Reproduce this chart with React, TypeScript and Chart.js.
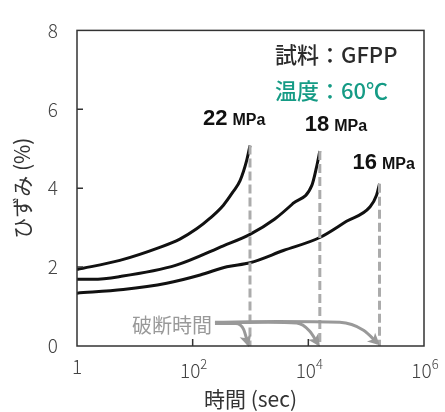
import { useEffect, useRef } from 'react';
import { Chart, registerables } from 'chart.js';

Chart.register(...registerables);

// ---- data ----
const stressLabels = ['22', '18', '16'];
const time22 = [1, 5.5, 27, 60, 117, 200, 340, 500, 660, 855, 980];
const strain22 = [1.94, 2.17, 2.5, 2.71, 2.97, 3.24, 3.57, 3.91, 4.19, 4.69, 5.08];
const time18 = [1, 1.9, 5.5, 52, 340, 980, 2630, 5500, 11500, 13800, 15800];
const strain18 = [1.69, 1.69, 1.76, 2.05, 2.54, 2.83, 3.22, 3.62, 4.07, 4.52, 4.94];
const time16 = [1, 6.3, 35.5, 135, 390, 980, 3700, 15800, 45700, 117000, 151000, 170000];
const strain16 = [1.34, 1.43, 1.59, 1.8, 2.01, 2.11, 2.42, 2.75, 3.16, 3.53, 3.82, 4.11];
const ruptureTimes = [980, 15800, 170000];
const ruptureStrains = [5.08, 4.94, 4.11];
const arrow1Time = [243, 560, 760, 905];
const arrow1Y = [0.57, 0.57, 0.42, 0.05];
const arrow2Time = [243, 2000, 6300, 10500, 14800];
const arrow2Y = [0.58, 0.6, 0.58, 0.38, 0.05];
const arrow3Time = [243, 3000, 35000, 90000, 158000];
const arrow3Y = [0.6, 0.62, 0.6, 0.4, 0.07];
const xTickValues = [1, 1e2, 1e4, 1e6];
const xTickExponents = [0, 2, 4, 6];
const yTickValues = [0, 2, 4, 6, 8];
const materialText = '試料：GFPP';
const tempText = '温度：60℃';
const ruptureText = '破断時間';
const xTitle = '時間 (sec)';
const yTitle = 'ひずみ (%)';

const FONT = "'Noto Sans CJK JP', 'Noto Sans', sans-serif";
const BOLD = "'Liberation Sans', Arial, sans-serif";

const pts = (xs: number[], ys: number[]) => xs.map((x, i) => ({ x, y: ys[i] }));

const labelOffsets = [
  [-47, -21],
  [-15, -20],
  [-27, -15],
];

const overlayPlugin = {
  id: 'overlay',
  afterDatasetsDraw(chart: any) {
    const { ctx } = chart;
    ctx.save();
    // arrowheads
    chart.data.datasets.forEach((ds: any, i: number) => {
      if (!ds.isArrow) return;
      const meta = chart.getDatasetMeta(i);
      const p = meta.data[meta.data.length - 1];
      let dx = p.x - (p.cp1x ?? meta.data[meta.data.length - 2].x);
      let dy = p.y - (p.cp1y ?? meta.data[meta.data.length - 2].y);
      const len = Math.hypot(dx, dy) || 1;
      dx /= len;
      dy /= len;
      const tipX = p.x + dx * 3;
      const tipY = p.y + dy * 3;
      const L = 12;
      const W = 6;
      const bx = tipX - dx * L;
      const by = tipY - dy * L;
      ctx.fillStyle = ds.borderColor;
      ctx.beginPath();
      ctx.moveTo(tipX, tipY);
      ctx.lineTo(bx - dy * W, by + dx * W);
      ctx.lineTo(bx + dx * 3, by + dy * 3);
      ctx.lineTo(bx + dy * W, by - dx * W);
      ctx.closePath();
      ctx.fill();
    });
    ctx.restore();
  },
  afterDraw(chart: any) {
    const { ctx, chartArea, scales } = chart;
    const xs = scales.x;
    const ys = scales.y;
    ctx.save();
    // frame
    ctx.strokeStyle = '#333';
    ctx.lineWidth = 1.5;
    ctx.strokeRect(chartArea.left, chartArea.top, chartArea.right - chartArea.left, chartArea.bottom - chartArea.top);
    // inward ticks
    ctx.beginPath();
    yTickValues.forEach((v) => {
      if (v === 0 || v === 8) return;
      const y = ys.getPixelForValue(v);
      ctx.moveTo(chartArea.left, y);
      ctx.lineTo(chartArea.left + 6, y);
    });
    xTickValues.forEach((v, i) => {
      if (i === 0 || i === xTickValues.length - 1) return;
      const x = xs.getPixelForValue(v);
      ctx.moveTo(x, chartArea.bottom);
      ctx.lineTo(x, chartArea.bottom - 7);
    });
    ctx.stroke();
    // x tick labels with superscripts
    ctx.fillStyle = '#444';
    ctx.textBaseline = 'alphabetic';
    xTickValues.forEach((v, i) => {
      const x = xs.getPixelForValue(v);
      const e = xTickExponents[i];
      if (e === 0) {
        ctx.font = `300 19px ${FONT}`;
        ctx.textAlign = 'center';
        ctx.fillText('1', x, chartArea.bottom + 28);
      } else {
        ctx.font = `300 19px ${FONT}`;
        const w1 = ctx.measureText('10').width;
        ctx.font = `300 13px ${FONT}`;
        const w2 = ctx.measureText(String(e)).width;
        const start = x - (w1 + w2) / 2 + 1;
        ctx.textAlign = 'left';
        ctx.font = `300 19px ${FONT}`;
        ctx.fillText('10', start, chartArea.bottom + 32);
        ctx.font = `300 13px ${FONT}`;
        ctx.fillText(String(e), start + w1, chartArea.bottom + 23);
      }
    });
    // stress labels
    ctx.fillStyle = '#111';
    ctx.textAlign = 'left';
    stressLabels.forEach((s, i) => {
      const px = xs.getPixelForValue(ruptureTimes[i]) + labelOffsets[i][0];
      const py = ys.getPixelForValue(ruptureStrains[i]) + labelOffsets[i][1];
      ctx.font = `bold 22px ${BOLD}`;
      ctx.fillText(s, px, py);
      const w = ctx.measureText(s).width;
      ctx.font = `bold 16px ${BOLD}`;
      ctx.fillText('MPa', px + w + 5, py);
    });
    // info box text
    ctx.font = `500 22px ${FONT}`;
    ctx.fillStyle = '#2a2a2a';
    ctx.fillText(materialText, chartArea.left + 198, chartArea.top + 33);
    ctx.fillStyle = '#159b85';
    ctx.fillText(tempText, chartArea.left + 198, chartArea.top + 69);
    // rupture label
    ctx.font = `20px ${FONT}`;
    ctx.fillStyle = '#999';
    ctx.textAlign = 'right';
    ctx.textBaseline = 'middle';
    ctx.fillText(ruptureText, xs.getPixelForValue(arrow1Time[0]) - 3, ys.getPixelForValue(arrow1Y[0]) + 2);
    ctx.restore();
  },
};

export default function App() {
  const ref = useRef<HTMLCanvasElement | null>(null);
  useEffect(() => {
    document.body.style.margin = '0';
    if (!ref.current) return;
    const curve = (xs: number[], ys: number[]) => ({
      data: pts(xs, ys),
      borderColor: '#111',
      borderWidth: 3,
      pointRadius: 0,
      cubicInterpolationMode: 'monotone' as const,
      order: 2,
    });
    const dashed = (i: number) => ({
      data: [
        { x: ruptureTimes[i], y: ruptureStrains[i] },
        { x: ruptureTimes[i], y: 0 },
      ],
      borderColor: '#ababab',
      borderWidth: 3,
      borderDash: [9, 4],
      pointRadius: 0,
      order: 1,
    });
    const arrow = (xs: number[], ys: number[]) => ({
      data: pts(xs, ys),
      borderColor: '#999',
      borderWidth: 3,
      pointRadius: 0,
      cubicInterpolationMode: 'monotone' as const,
      isArrow: true,
      order: 0,
    });
    const chart = new Chart(ref.current, {
      type: 'line',
      data: {
        datasets: [
          curve(time22, strain22),
          curve(time18, strain18),
          curve(time16, strain16),
          dashed(0),
          dashed(1),
          dashed(2),
          arrow(arrow1Time, arrow1Y),
          arrow(arrow2Time, arrow2Y),
          arrow(arrow3Time, arrow3Y),
        ] as any,
      },
      options: {
        animation: false,
        responsive: false,
        devicePixelRatio: 1,
        layout: { padding: { top: 23, right: 21, left: 0, bottom: 0 } },
        plugins: { legend: { display: false }, tooltip: { enabled: false } },
        scales: {
          x: {
            type: 'logarithmic',
            min: 1,
            max: 1e6,
            grid: { display: false, drawTicks: false },
            border: { display: false },
            ticks: { display: false },
            afterBuildTicks: (s: any) => {
              s.ticks = xTickValues.map((v) => ({ value: v }));
            },
            afterFit: (s: any) => {
              s.height = 66;
            },
            title: {
              display: true,
              text: xTitle,
              color: '#333',
              font: { family: FONT, size: 21 },
              padding: { top: 0, bottom: 0 },
            },
          },
          y: {
            min: 0,
            max: 8,
            grid: { display: false, drawTicks: false },
            border: { display: false },
            afterBuildTicks: (s: any) => {
              s.ticks = yTickValues.map((v) => ({ value: v }));
            },
            ticks: {
              padding: 19,
              color: '#444',
              font: { family: FONT, size: 19, weight: 300 as any },
            },
            afterFit: (s: any) => {
              s.width = 77;
            },
            title: {
              display: true,
              text: yTitle,
              color: '#333',
              font: { family: FONT, size: 21 },
              padding: { top: 9, bottom: 0 },
            },
          },
        },
      },
      plugins: [overlayPlugin],
    });
    return () => chart.destroy();
  }, []);
  return (
    <div style={{ width: 445, height: 412 }}>
      <canvas ref={ref} width={445} height={412} />
    </div>
  );
}
